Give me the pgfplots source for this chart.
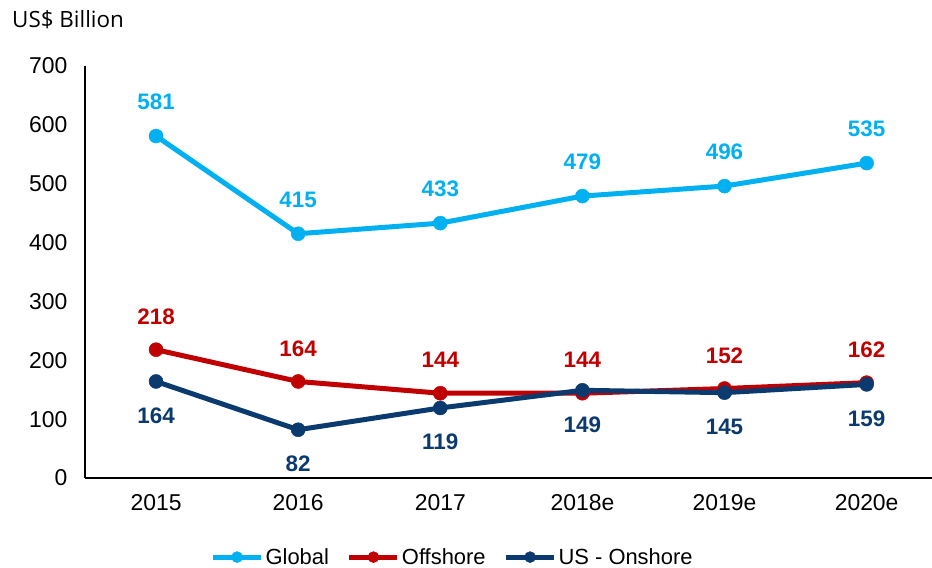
\documentclass[border=0pt]{standalone}
\usepackage{fontspec}
\setmainfont{Liberation Sans}
\newfontfamily\titlefont{Open Sans}
\usepackage{pgfplots}
\pgfplotsset{compat=1.18}
\definecolor{cGlobal}{HTML}{00B0F0}
\definecolor{cOff}{HTML}{C00000}
\definecolor{cUS}{HTML}{0B3A6E}
\begin{document}
\begin{tikzpicture}
\begin{axis}[
  scale only axis,
  width=847bp, height=412bp,
  xmin=-0.5, xmax=5.46,
  ymin=0, ymax=700,
  axis x line=bottom, axis y line=left,
  axis line style={-, black, line width=1.2bp},
  xtick={0,1,2,3,4,5},
  xticklabels={2015,2016,2017,2018e,2019e,2020e},
  ytick={0,100,...,700},
  major tick length=0pt,
  /pgf/number format/assume math mode=true,
  tick label style={font=\fontsize{23}{23}\selectfont, text=black},
  yticklabel style={xshift=-14bp},
  xticklabel style={yshift=-13bp},
  every axis plot/.append style={line width=5bp, mark=*, mark size=7bp, mark options={solid, line width=0.5bp}},
  nodes near coords,
  every node near coord/.append style={font=\bfseries\fontsize{22.5}{22.5}\selectfont, anchor=center},
  legend style={at={(0.434,-0.192)}, anchor=center, draw=none, fill=none,
    legend columns=3, font=\fontsize{22}{22}\selectfont,
    /tikz/every even column/.append style={column sep=16bp}},
  legend cell align=left,
  legend image code/.code={\draw[mark repeat=2,mark phase=2,mark size=5.5bp,#1] plot coordinates {(0bp,0bp)(24bp,0bp)(48bp,0bp)};},
  clip=false,
]
\addplot[color=cGlobal, every node near coord/.append style={yshift=34bp, text=cGlobal}]
  coordinates {(0,581) (1,415) (2,433) (3,479) (4,496) (5,535)};
\addlegendentry{Global}
\addplot[color=cOff, every node near coord/.append style={yshift=33bp, text=cOff}]
  coordinates {(0,218) (1,164) (2,144) (3,144) (4,152) (5,162)};
\addlegendentry{Offshore}
\addplot[color=cUS, every node near coord/.append style={yshift=-34bp, text=cUS}]
  coordinates {(0,164) (1,82) (2,119) (3,149) (4,145) (5,159)};
\addlegendentry{US - Onshore}
\end{axis}
\node[anchor=base west, inner sep=0pt, font=\titlefont\fontsize{22.5}{22.5}\selectfont] at (-73bp,450bp) {US\$ Billion};
\pgfresetboundingbox
\path[use as bounding box] (-85bp,-90bp) rectangle (847bp,478bp);
\end{tikzpicture}
\end{document}
